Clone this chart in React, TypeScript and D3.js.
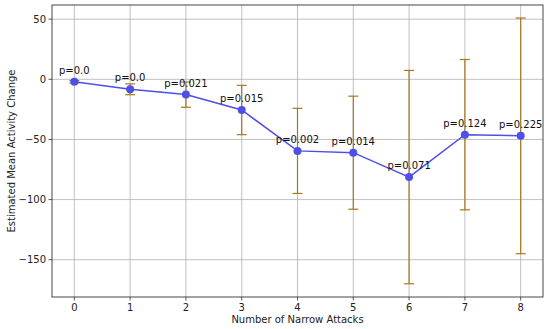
import React from "react";
import * as d3 from "d3";

const attacks = [0, 1, 2, 3, 4, 5, 6, 7, 8];
const meanChange = [-2, -8.3, -12.7, -25.5, -59.5, -61, -81.3, -46, -47];
const errHalf = [1, 4.5, 10.5, 20.5, 35.4, 47, 88.7, 62.5, 98];
const pLabels = ["p=0.0", "p=0.0", "p=0.021", "p=0.015", "p=0.002", "p=0.014", "p=0.071", "p=0.124", "p=0.225"];
const yTicks = [-150, -100, -50, 0, 50];

const W = 550, H = 329;
const M = { left: 52, right: 7, top: 5, bottom: 32 };

export default function App() {
  const x = d3.scaleLinear().domain([-0.4, 8.4]).range([M.left, W - M.right]);
  const y = d3.scaleLinear().domain([-181, 61.8]).range([H - M.bottom, M.top]);
  const line = d3.line<number>().x((_, i) => x(attacks[i])).y((d) => y(d));
  const font = "DejaVu Sans, sans-serif";
  const errColor = "#a8781f";
  const lineColor = "#4e4ee8";
  return (
    <svg width={W} height={H} style={{ position: "absolute", left: 0, top: 0 }} fontFamily={font}>
      <rect width={W} height={H} fill="white" />
      {attacks.map((a) => (
        <line key={"gx" + a} x1={x(a)} x2={x(a)} y1={M.top} y2={H - M.bottom} stroke="#b0b0b0" strokeWidth={0.8} />
      ))}
      {yTicks.map((t) => (
        <line key={"gy" + t} x1={M.left} x2={W - M.right} y1={y(t)} y2={y(t)} stroke="#b0b0b0" strokeWidth={0.8} />
      ))}
      {attacks.map((a, i) => (
        <g key={"e" + a} stroke={errColor} strokeWidth={1.2}>
          <line x1={x(a)} x2={x(a)} y1={y(meanChange[i] + errHalf[i])} y2={y(meanChange[i] - errHalf[i])} />
          <line x1={x(a) - 5} x2={x(a) + 5} y1={y(meanChange[i] + errHalf[i])} y2={y(meanChange[i] + errHalf[i])} />
          <line x1={x(a) - 5} x2={x(a) + 5} y1={y(meanChange[i] - errHalf[i])} y2={y(meanChange[i] - errHalf[i])} />
        </g>
      ))}
      <path d={line(meanChange) || ""} fill="none" stroke={lineColor} strokeWidth={1.5} />
      {attacks.map((a, i) => (
        <circle key={"c" + a} cx={x(a)} cy={y(meanChange[i])} r={4} fill={lineColor} />
      ))}
      {attacks.map((a, i) => (
        <text key={"t" + a} x={x(a)} y={y(meanChange[i]) - 8} textAnchor="middle" fontSize={10} fill="#111">
          {pLabels[i]}
        </text>
      ))}
      <rect x={M.left} y={M.top} width={W - M.right - M.left} height={H - M.bottom - M.top} fill="none" stroke="#333" strokeWidth={0.9} />
      {attacks.map((a) => (
        <g key={"xt" + a}>
          <line x1={x(a)} x2={x(a)} y1={H - M.bottom} y2={H - M.bottom + 3.5} stroke="#333" strokeWidth={0.8} />
          <text x={x(a)} y={H - M.bottom + 14} textAnchor="middle" fontSize={10} fill="#222">{a}</text>
        </g>
      ))}
      {yTicks.map((t) => (
        <g key={"yt" + t}>
          <line x1={M.left - 3.5} x2={M.left} y1={y(t)} y2={y(t)} stroke="#333" strokeWidth={0.8} />
          <text x={M.left - 6} y={y(t) + 3.5} textAnchor="end" fontSize={10} fill="#222">{t < 0 ? "\u2212" + Math.abs(t) : t}</text>
        </g>
      ))}
      <text x={(M.left + W - M.right) / 2} y={323} textAnchor="middle" fontSize={10} fill="#222">Number of Narrow Attacks</text>
      <text transform={`translate(15,${(M.top + H - M.bottom) / 2}) rotate(-90)`} textAnchor="middle" fontSize={10} fill="#222">Estimated Mean Activity Change</text>
    </svg>
  );
}
